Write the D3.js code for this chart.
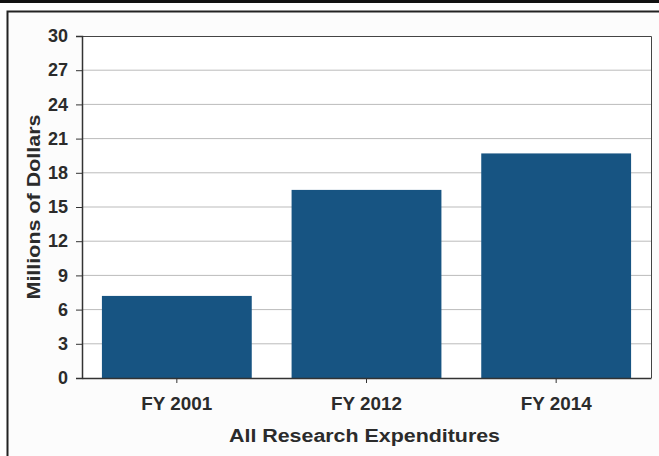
<!DOCTYPE html>
<html lang="en">
<head>
    <meta charset="UTF-8">
    <title>All Research Expenditures</title>
    <script src="https://d3js.org/d3.v7.min.js"></script>
    <style>
        body { margin: 0; background: #fff; }
        text { font-family: "Liberation Sans", Arial, sans-serif; font-weight: bold; fill: #2b2b2b; }
    </style>
</head>
<body>
<div id="figure" style="width: 659px;height: 456px"></div>
<script>
    // data
    let categories = ['FY 2001', 'FY 2012', 'FY 2014'];
    let values = [7.2, 16.5, 19.7];
    let yTicks = [0, 3, 6, 9, 12, 15, 18, 21, 24, 27, 30];

    let w = 659, h = 456;
    let margin = {left: 82, right: 8, top: 36, bottom: 78};

    let svg = d3.select('#figure').append('svg')
        .attr('width', w)
        .attr('height', h);

    // outer frame
    svg.append('rect').attr('x', 0).attr('y', 0).attr('width', w).attr('height', 3).style('fill', '#111');
    svg.append('rect')
        .attr('x', 7.5).attr('y', 11.5)
        .attr('width', w).attr('height', h)
        .style('fill', '#fcfcfc')
        .style('stroke', '#222')
        .style('stroke-width', 2);

    let xScale = d3.scaleBand()
        .domain(categories)
        .range([margin.left, w - margin.right])
        .paddingInner(0.21)
        .paddingOuter(0.105);
    let yScale = d3.scaleLinear()
        .domain([0, 30])
        .range([h - margin.bottom, margin.top]);

    let plot = svg.append('g');
    plot.append('rect')
        .attr('x', margin.left).attr('y', margin.top)
        .attr('width', w - margin.right - margin.left)
        .attr('height', h - margin.bottom - margin.top)
        .style('fill', '#fff');

    // grid lines
    plot.selectAll('.grid').data(yTicks.slice(1, -1)).enter().append('line')
        .attr('x1', margin.left).attr('x2', w - margin.right)
        .attr('y1', d => yScale(d)).attr('y2', d => yScale(d))
        .style('stroke', '#bbb');

    plot.selectAll('.bar').data(values).enter().append('rect')
        .attr('x', (d, i) => xScale(categories[i]))
        .attr('y', d => yScale(d))
        .attr('width', xScale.bandwidth())
        .attr('height', d => yScale(0) - yScale(d))
        .style('fill', '#175482');

    // plot border top/right
    plot.append('path')
        .attr('d', `M${margin.left},${margin.top + 0.5}H${w - margin.right + 0.5}V${h - margin.bottom}`)
        .style('fill', 'none')
        .style('stroke', '#444');

    let yAxis = svg.append('g')
        .attr('transform', `translate(${margin.left},0)`)
        .call(d3.axisLeft(yScale).tickValues(yTicks).tickSize(6).tickPadding(8));
    let xAxis = svg.append('g')
        .attr('transform', `translate(0,${h - margin.bottom})`)
        .call(d3.axisBottom(xScale).tickSize(5).tickPadding(14).tickSizeOuter(0));
    [yAxis, xAxis].forEach(a => {
        a.selectAll('.domain').style('stroke', '#333').style('stroke-width', 1.5);
        a.selectAll('.tick line').style('stroke', '#333');
        a.selectAll('text')
            .attr('font-size', 18)
            .attr('font-family', '"Liberation Sans", Arial, sans-serif')
            .attr('font-weight', 'bold')
            .attr('fill', '#2b2b2b');
    });
    xAxis.selectAll('text').attr('textLength', 71).attr('lengthAdjust', 'spacingAndGlyphs');

    svg.append('text')
        .attr('x', (margin.left + w - margin.right) / 2 - 2)
        .attr('y', 442)
        .attr('text-anchor', 'middle')
        .attr('textLength', 271)
        .attr('lengthAdjust', 'spacingAndGlyphs')
        .style('font-size', '18px')
        .text('All Research Expenditures');

    svg.append('text')
        .attr('transform', `translate(40,${(margin.top + h - margin.bottom) / 2}) rotate(-90)`)
        .attr('text-anchor', 'middle')
        .attr('textLength', 185)
        .attr('lengthAdjust', 'spacingAndGlyphs')
        .style('font-size', '18px')
        .text('Millions of Dollars');
</script>
</body>
</html>
